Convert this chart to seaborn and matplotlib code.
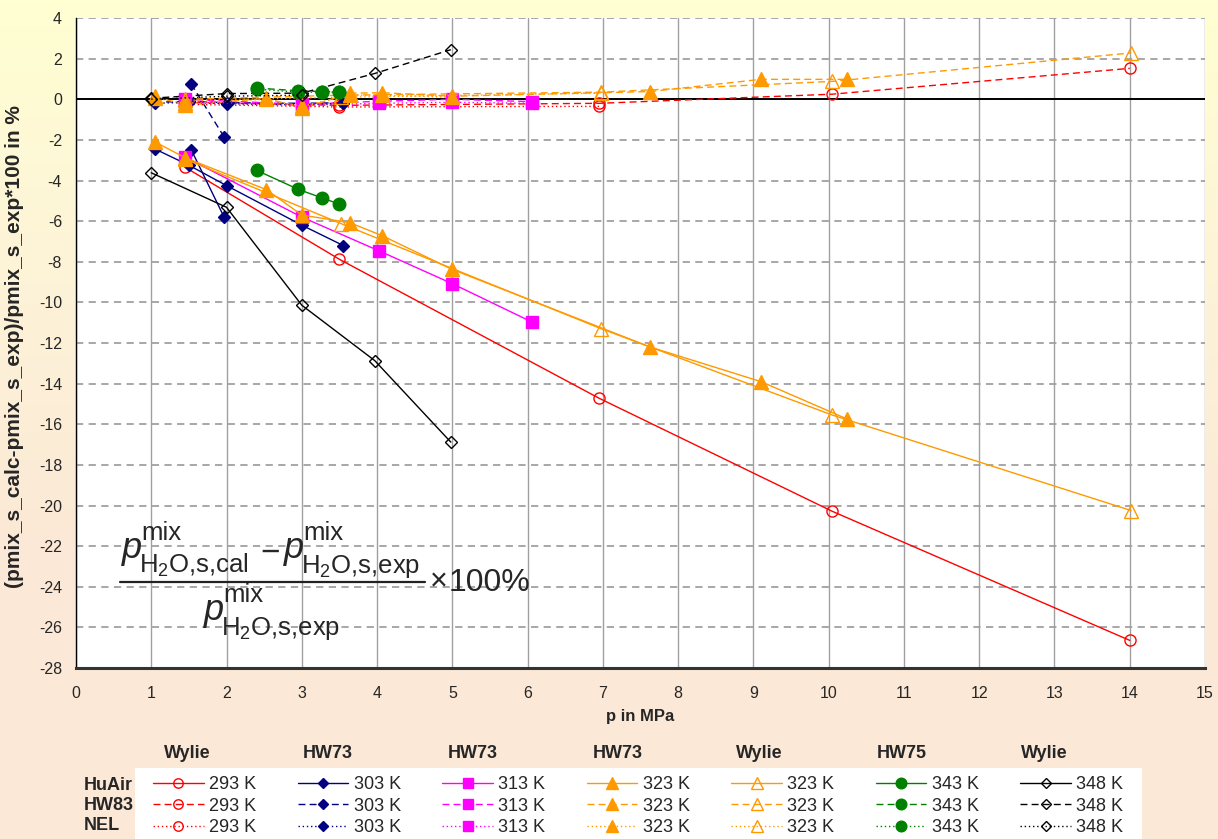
import numpy as np
import pandas as pd
import matplotlib
matplotlib.use("Agg")
import matplotlib.pyplot as plt
import seaborn as sns
from matplotlib.lines import Line2D
from matplotlib.patches import Rectangle
from matplotlib.colors import LinearSegmentedColormap

nan = np.nan

# ---------------- data ----------------
# 293 K (Wylie)
p_293 = [1.45, 3.5, 6.95, 10.05, 14.0]
huair_293 = [-3.35, -7.88, -14.72, -20.29, -26.64]
hw83_293 = [-0.15, -0.3, -0.2, 0.25, 1.52]
nel_293 = [-0.25, -0.38, -0.35, nan, nan]

# 303 K (HW73) - two connected groups
p_303_a = [1.05, 1.5, 2.0, 3.0, 3.55]
huair_303_a = [-2.45, -3.25, -4.25, -6.2, -7.2]
hw83_303_a = [-0.15, -0.1, -0.17, -0.2, -0.17]
nel_303_a = [-0.2, -0.15, -0.22, -0.28, -0.2]
p_303_b = [1.53, 1.97]
huair_303_b = [-2.48, -5.82]
hw83_303_b = [0.76, -1.87]
nel_303_b = [nan, nan]

# 313 K (HW73)
p_313 = [1.45, 3.0, 4.03, 5.0, 6.06]
huair_313 = [-2.85, -5.8, -7.47, -9.08, -10.97]
hw83_313 = [0.0, -0.25, -0.1, 0.0, -0.12]
nel_313 = [-0.1, -0.3, -0.2, -0.15, -0.2]

# 323 K (HW73)
p_323 = [1.05, 1.45, 2.53, 3.0, 3.64, 4.07, 5.0, 7.63, 9.1, 10.25]
huair_323 = [-2.1, -2.88, -4.45, -5.7, -6.08, -6.72, -8.38, -12.2, -13.9, -15.75]
hw83_323 = [0.15, -0.3, 0.05, -0.45, 0.3, 0.32, 0.15, 0.38, 0.98, 0.98]
nel_323 = [0.05, -0.2, 0.0, -0.35, 0.2, 0.2, 0.1, nan, nan, nan]

# 323 K (Wylie)
p_323w = [1.45, 3.52, 6.98, 10.05, 14.02]
huair_323w = [-2.95, -6.12, -11.3, -15.55, -20.25]
hw83_323w = [0.0, 0.2, 0.35, 0.88, 2.28]
nel_323w = [-0.05, 0.1, 0.3, nan, nan]

# 343 K (HW75)
p_343 = [2.4, 2.95, 3.27, 3.49]
huair_343 = [-3.5, -4.43, -4.86, -5.15]
hw83_343 = [0.55, 0.42, 0.38, 0.38]
nel_343 = [0.5, 0.35, 0.35, 0.35]

# 348 K (Wylie)
p_348 = [1.0, 2.0, 3.0, 3.97, 4.98]
huair_348 = [-3.62, -5.32, -10.14, -12.87, -16.88]
hw83_348 = [0.05, 0.28, 0.3, 1.27, 2.44]
nel_348 = [0.0, 0.15, 0.2, nan, nan]

models = ["HuAir", "HW83", "NEL"]
col_sources = ["Wylie", "HW73", "HW73", "HW73", "Wylie", "HW75", "Wylie"]
col_labels = ["293 K", "303 K", "313 K", "323 K", "323 K", "343 K", "348 K"]
x_ticks = list(range(0, 16))
y_ticks = list(range(-28, 5, 2))

# ---------------- long table ----------------
series_data = [
    ("293", [(p_293, huair_293, hw83_293, nel_293)]),
    ("303", [(p_303_a, huair_303_a, hw83_303_a, nel_303_a),
             (p_303_b, huair_303_b, hw83_303_b, nel_303_b)]),
    ("313", [(p_313, huair_313, hw83_313, nel_313)]),
    ("323", [(p_323, huair_323, hw83_323, nel_323)]),
    ("323w", [(p_323w, huair_323w, hw83_323w, nel_323w)]),
    ("343", [(p_343, huair_343, hw83_343, nel_343)]),
    ("348", [(p_348, huair_348, hw83_348, nel_348)]),
]
rows = []
for key, groups in series_data:
    for seg, (pp, a, b, c) in enumerate(groups):
        for model, vals in zip(models, (a, b, c)):
            for pv, v in zip(pp, vals):
                rows.append(dict(series=key, model=model, seg=seg, p=pv, dev=v))
df = pd.DataFrame(rows).dropna()

ORANGE = "#FF9900"
spec = {
    "293": dict(color="#FF0000", marker="o", ms=8, filled=False),
    "303": dict(color="#000080", marker="D", ms=6.5, filled=True),
    "313": dict(color="#FF00FF", marker="s", ms=8, filled=True),
    "323": dict(color=ORANGE, marker="^", ms=10, filled=True),
    "323w": dict(color=ORANGE, marker="^", ms=10, filled=False),
    "343": dict(color="#008000", marker="o", ms=9, filled=True),
    "348": dict(color="#000000", marker="D", ms=6.5, filled=False),
}
lstyle = {"HuAir": "-", "HW83": (0, (5, 3)), "NEL": (0, (1, 2))}
order = ["293", "303", "313", "323", "323w", "343", "348"]

# ---------------- figure ----------------
sns.set_style("white")
plt.rcParams["font.family"] = ["Liberation Sans", "DejaVu Sans"]
plt.rcParams["axes.unicode_minus"] = False
plt.rcParams["mathtext.fontset"] = "custom"
plt.rcParams["mathtext.rm"] = "Liberation Sans"
plt.rcParams["mathtext.it"] = "Liberation Sans:italic"
plt.rcParams["mathtext.bf"] = "Liberation Sans:bold"

W, H = 1218, 839
fig = plt.figure(figsize=(W / 100, H / 100), dpi=100)


def fx(x):
    return x / W


def fy(y):
    return 1 - y / H


bg = fig.add_axes([0, 0, 1, 1], zorder=-10)
grad = np.linspace(0, 1, 256).reshape(-1, 1)
cmap = LinearSegmentedColormap.from_list("bg", ["#FFFFD2", "#FDF3D8", "#FBE8D6", "#FBE8D6"])
bg.imshow(grad, aspect="auto", cmap=cmap, extent=[0, 1, 0, 1], origin="upper")
bg.axis("off")

ax = fig.add_axes([fx(76), fy(668), (1205 - 76) / W, (668 - 18) / H])
ax.set_facecolor("white")

for model in models:
    for key in order:
        s = spec[key]
        sub = df[(df.series == key) & (df.model == model)]
        if sub.empty:
            continue
        sns.lineplot(data=sub, x="p", y="dev", units="seg", estimator=None, sort=False,
                     ax=ax, color=s["color"], linestyle=lstyle[model], linewidth=1.0,
                     marker=s["marker"], markersize=s["ms"],
                     markerfacecolor=s["color"] if s["filled"] else "none",
                     markeredgecolor=s["color"], markeredgewidth=1.0,
                     legend=False, zorder=3)

ax.set_xlim(0, 15)
ax.set_ylim(-28, 4)
ax.set_xticks(x_ticks)
ax.set_yticks(y_ticks)
ax.xaxis.grid(True, color="#A0A0A0", linestyle="-", linewidth=1.0)
ax.yaxis.grid(True, color="#A0A0A0", linestyle=(0, (4, 3)), linewidth=1.3)
ax.set_axisbelow(True)
ax.axhline(0, color="black", linewidth=1.4, zorder=2)
for side in ("top", "right"):
    ax.spines[side].set_visible(False)
ax.spines["left"].set_color("black")
ax.spines["left"].set_linewidth(1.0)
ax.spines["bottom"].set_color("#333333")
ax.spines["bottom"].set_linewidth(2.2)
ax.tick_params(axis="both", which="major", direction="out", length=4, width=1,
               color="black", labelsize=11.5, pad=6)
ax.tick_params(axis="x", pad=9)

ax.set_xlabel("p in MPa", fontweight="bold", fontsize=12)
ax.xaxis.set_label_coords(0.5, -0.063)
ax.set_ylabel("(pmix_s_calc-pmix_s_exp)/pmix_s_exp*100 in %", fontweight="bold", fontsize=15)
ax.yaxis.set_label_coords(-0.046, 0.494)

# ---------------- formula (built from pieces) ----------------
PS, SS = 26, 18.5
sub2 = r"H$_\mathrm{2}$O,s,"
num_sub_base = 573
den_sub_base = 635
for x0, tail in [(122, "cal"), (284, "exp")]:
    fig.text(fx(x0), fy(num_sub_base - 15), "p", fontsize=PS, fontstyle="italic",
             ha="left", va="baseline")
    fig.text(fx(x0 + 19), fy(num_sub_base - 33), "mix", fontsize=SS, ha="left", va="baseline")
    fig.text(fx(x0 + 17), fy(num_sub_base), sub2 + tail, fontsize=SS, ha="left", va="baseline")
fig.text(fx(270), fy(553), "\u2212", fontsize=24, ha="center", va="center")
fig.add_artist(Line2D([fx(120), fx(425)], [fy(582), fy(582)], color="#222222", linewidth=1.6))
fig.text(fx(439), fy(582), "\u00d7", fontsize=22, ha="center", va="center")
fig.text(fx(449), fy(591), "100%", fontsize=23, ha="left", va="baseline")
fig.text(fx(204), fy(den_sub_base - 15), "p", fontsize=PS, fontstyle="italic",
         ha="left", va="baseline")
fig.text(fx(223), fy(den_sub_base - 33), "mix", fontsize=SS, ha="left", va="baseline")
fig.text(fx(221), fy(den_sub_base), sub2 + "exp", fontsize=SS, ha="left", va="baseline")

# ---------------- legend ----------------
fig.add_artist(Rectangle((fx(135), 0), (1142 - 135) / W, 71 / H, transform=fig.transFigure,
                         facecolor="white", edgecolor="none", zorder=0))
handles, labels = [], []
for key, lab in zip(order, col_labels):
    s = spec[key]
    for model in models:
        handles.append(Line2D([], [], color=s["color"], linestyle=lstyle[model], linewidth=1.0,
                              marker=s["marker"], markersize=s["ms"] * 0.85,
                              markerfacecolor=s["color"] if s["filled"] else "none",
                              markeredgecolor=s["color"], markeredgewidth=1.0))
        labels.append(lab)
leg = fig.legend(handles, labels, ncol=7, loc="upper left",
                 bbox_to_anchor=(fx(153), fy(776)), frameon=False,
                 fontsize=13, handlelength=2.8, handletextpad=0.3,
                 labelspacing=0.25, borderpad=0.0, borderaxespad=0, columnspacing=2.3)

for x, t in zip([164, 303, 448, 593, 736, 877, 1021], col_sources):
    fig.text(fx(x), fy(754), t, fontweight="bold", fontsize=13, ha="left", va="center")
for y, t in zip([785, 806, 826], models):
    fig.text(fx(84), fy(y), t, fontweight="bold", fontsize=13, ha="left", va="center")

fig.savefig("out.png", dpi=100)
